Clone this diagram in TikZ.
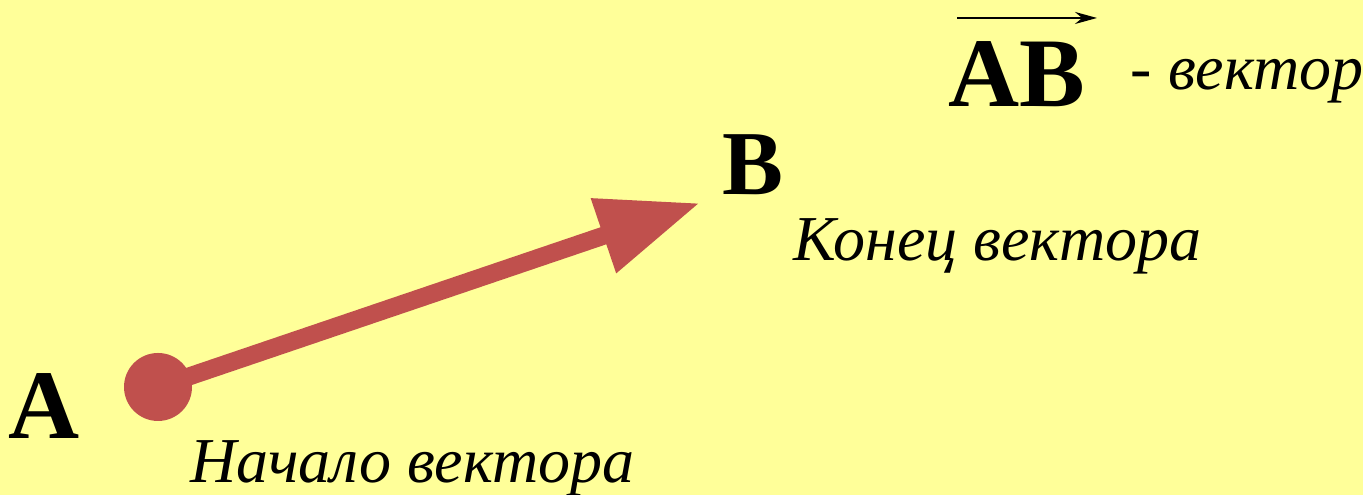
\documentclass[tikz,border=0pt]{standalone}
\usepackage{fontspec}
\setmainfont{Liberation Serif}
\usetikzlibrary{arrows.meta, positioning, calc}

\definecolor{fond}{HTML}{FFFF99}
\definecolor{fleche}{HTML}{C0504D}

\tikzset{
  lettre/.style={font=\fontsize{28}{30}\selectfont\bfseries, inner sep=0pt, anchor=base west},
  legende/.style={font=\fontsize{18.2}{20}\selectfont\itshape, inner sep=0pt, anchor=base west},
}

\begin{document}
\begin{tikzpicture}

% Fond
\fill[fond] (0,0) rectangle (13.63,4.95);
\useasboundingbox (0,0) rectangle (13.63,4.95);

% Points
\node[circle, fill=fleche, inner sep=0pt, minimum size=0.68cm] (dotA) at (1.58,1.08) {};
\coordinate (tipB) at (7.00,2.92);

% Vecteur
\draw[fleche, line width=0.18cm, -{Triangle[length=1.02cm, width=0.74cm]}] (dotA.center) -- (tipB);

% Lettres
\node[lettre] (A) at (0.08,0.56) {A};
\node[lettre, font=\fontsize{26}{28}\selectfont\bfseries] (B) at (7.22,3.00) {B};

% Annotations
\node[legende] (fin) at (7.93,2.34) {Конец вектора};
\node[legende] (debut) at (1.90,0.12) {Начало вектора};

% Notation
\node[lettre] (AB) at (9.48,3.88) {AB};
\node[legende] (nom) at (11.30,4.05) {- вектор};
\coordinate (ovl) at (9.57,4.77);
\coordinate (ovr) at (10.97,4.77);
\draw[line width=0.7pt, -{Stealth[length=0.22cm, width=0.12cm]}] (ovl) -- (ovr);

\end{tikzpicture}
\end{document}
